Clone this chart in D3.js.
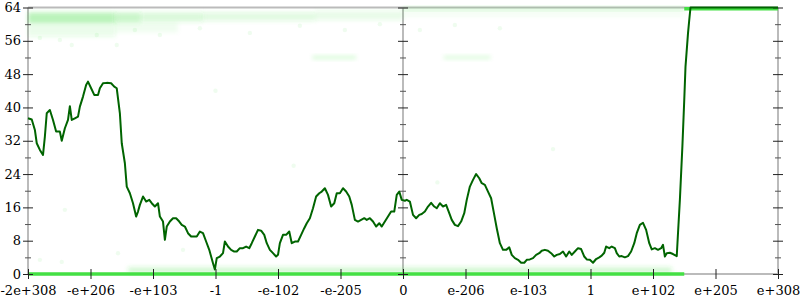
<!DOCTYPE html>
<html>
<head>
<meta charset="utf-8">
<script src="https://cdn.jsdelivr.net/npm/d3@7"></script>
<style>
body { margin: 0; background: #fff; }
svg text { font-family: "DejaVu Serif", serif; font-size: 13px; fill: #000; }
</style>
</head>
<body>
<div id="chart"></div>
<script>
// x axis: ordered float bit positions, one label per step
var tickLabels = ["-2e+308", "-e+206", "-e+103", "-1", "-e-102", "-e-205", "0",
                  "e-206", "e-103", "1", "e+102", "e+205", "e+308"];
var tickPos = [-6, -5, -4, -3, -2, -1, 0, 1, 2, 3, 4, 5, 6];
var yTicks = [0, 8, 16, 24, 32, 40, 48, 56, 64];
var yMinor = [4, 12, 20, 28, 36, 44, 52, 60];

// running median line
var lineX = [-6.00, -5.94, -5.89, -5.86, -5.81, -5.76, -5.73, -5.70, -5.65, -5.60, -5.55, -5.49, -5.46, -5.41, -5.36,
  -5.33, -5.30, -5.25, -5.20, -5.17, -5.12, -5.07, -5.04, -4.99, -4.94, -4.88, -4.85, -4.80, -4.74, -4.67,
  -4.62, -4.58, -4.53, -4.50, -4.45, -4.42, -4.37, -4.32, -4.27, -4.24, -4.21, -4.16, -4.11, -4.06, -4.02,
  -3.97, -3.92, -3.89, -3.84, -3.81, -3.78, -3.73, -3.68, -3.63, -3.58, -3.54, -3.49, -3.44, -3.39, -3.34,
  -3.30, -3.25, -3.20, -3.15, -3.10, -3.07, -3.04, -3.01, -2.98, -2.93, -2.88, -2.85, -2.80, -2.75, -2.70,
  -2.66, -2.61, -2.56, -2.51, -2.46, -2.42, -2.37, -2.32, -2.27, -2.22, -2.18, -2.13, -2.08, -2.03, -2.00,
  -1.97, -1.92, -1.87, -1.82, -1.78, -1.73, -1.68, -1.63, -1.58, -1.54, -1.49, -1.44, -1.39, -1.34, -1.30,
  -1.25, -1.20, -1.15, -1.10, -1.06, -1.01, -0.96, -0.91, -0.86, -0.82, -0.77, -0.72, -0.67, -0.62, -0.58,
  -0.53, -0.48, -0.43, -0.38, -0.34, -0.29, -0.24, -0.19, -0.14, -0.10, -0.06, -0.02, 0.03, 0.06, 0.11,
  0.16, 0.21, 0.26, 0.30, 0.35, 0.40, 0.45, 0.50, 0.54, 0.59, 0.64, 0.69, 0.74, 0.78, 0.83,
  0.88, 0.93, 0.98, 1.02, 1.07, 1.12, 1.17, 1.22, 1.26, 1.31, 1.36, 1.41, 1.46, 1.50, 1.55,
  1.60, 1.65, 1.70, 1.74, 1.79, 1.84, 1.89, 1.94, 1.98, 2.03, 2.08, 2.13, 2.18, 2.22, 2.27,
  2.32, 2.37, 2.42, 2.46, 2.51, 2.56, 2.61, 2.66, 2.70, 2.75, 2.80, 2.85, 2.90, 2.94, 2.99,
  3.04, 3.09, 3.14, 3.18, 3.22, 3.25, 3.30, 3.34, 3.39, 3.42, 3.46, 3.50, 3.55, 3.60, 3.65,
  3.70, 3.74, 3.79, 3.84, 3.89, 3.94, 3.98, 4.03, 4.08, 4.13, 4.16, 4.19, 4.22, 4.27, 4.32,
  4.38, 4.40, 4.43, 4.47, 4.50, 4.52, 4.56, 4.58, 4.60, 6.00];
var lineV = [37.4, 37.1, 34.6, 31.4, 29.8, 28.6, 33.0, 38.6, 39.4, 37.0, 34.2, 34.2, 32.0, 35.0, 37.0,
  40.3, 37.0, 37.4, 37.8, 40.2, 42.6, 45.4, 46.2, 44.6, 43.0, 43.0, 44.6, 45.8, 45.9, 45.8,
  45.0, 44.6, 38.6, 31.4, 26.6, 21.0, 19.4, 17.0, 13.8, 15.0, 16.6, 18.6, 17.4, 17.8, 17.0,
  16.2, 17.0, 13.8, 12.6, 8.2, 11.4, 12.6, 13.4, 13.4, 12.6, 11.8, 11.4, 9.8, 9.0, 9.0,
  9.0, 10.2, 9.8, 7.8, 5.8, 4.2, 2.6, 1.1, 3.8, 4.2, 5.0, 7.8, 6.6, 5.8, 5.4,
  5.4, 6.2, 6.2, 6.6, 6.2, 7.4, 9.0, 10.6, 10.4, 9.4, 7.4, 5.8, 5.0, 4.2, 4.6,
  7.4, 9.4, 9.4, 10.2, 7.4, 7.8, 7.8, 9.4, 11.0, 12.2, 13.4, 15.8, 18.6, 19.4, 19.8,
  20.6, 19.0, 16.2, 17.0, 19.4, 19.4, 20.6, 19.8, 18.6, 16.6, 13.0, 12.6, 13.0, 13.4, 13.0,
  13.4, 12.6, 11.4, 12.2, 11.4, 12.6, 13.8, 15.0, 15.0, 19.0, 19.8, 17.8, 17.6, 17.8, 17.4,
  14.2, 13.4, 14.2, 14.4, 15.0, 16.2, 17.1, 16.2, 15.8, 17.0, 16.2, 16.6, 14.6, 13.0, 11.8,
  11.5, 12.6, 14.6, 17.8, 21.0, 22.6, 24.0, 23.0, 21.8, 21.4, 19.8, 18.2, 14.2, 11.0, 7.4,
  5.8, 5.8, 6.4, 4.6, 3.8, 3.4, 2.7, 2.7, 3.4, 3.5, 3.8, 4.6, 5.0, 5.6, 5.8,
  5.6, 5.0, 4.2, 4.6, 4.8, 5.4, 4.2, 5.4, 4.6, 5.4, 6.2, 6.0, 4.2, 3.5, 3.4,
  2.7, 3.6, 4.0, 4.4, 5.1, 6.6, 6.2, 6.6, 6.2, 5.0, 4.2, 4.3, 4.0, 4.3, 5.4,
  7.4, 9.8, 11.8, 12.3, 10.6, 7.4, 5.9, 6.2, 5.8, 6.2, 7.0, 4.2, 5.0, 5.1, 4.8,
  4.3, 9.8, 17.8, 30.6, 41.8, 49.8, 57.8, 61.0, 64.0, 64.0];

// sample clouds (blurred bands) : x range, value range, relative density
var bandX0 = [-6.0, -4.6, -4.2, -3.2, -1.4, 0.0, -6.0, -4.6, -1.45, 0.65, -4.4, 0.0, -6.0, 4.5];
var bandX1 = [-4.6, -4.2, -3.2, -1.4, 0.0, 4.5, -4.6, -3.6, -0.75, 1.40, 4.3, 4.5, 4.5, 6.0];
var bandV0 = [60.3, 60.4, 60.6, 60.8, 61.0, 62.0, 57.0, 58.0, 51.6, 51.6, 0.3, 63.4, -0.3, 63.4];
var bandV1 = [62.8, 62.8, 62.8, 62.8, 63.2, 63.2, 60.3, 60.4, 52.4, 52.4, 1.6, 64.0, 0.3, 64.0];
var bandN  = [0.34, 0.26, 0.19, 0.14, 0.11, 0.07, 0.10, 0.06, 0.16, 0.14, 0.22, 0.25, 1.0, 1.0];

// loose samples
var dotX = [-5.81, -5.49, -5.30, -4.90, -4.58, -4.29, -3.89, -3.25, -2.45, -1.65, -0.93, -0.37, 0.27, 0.83, 1.55,
  -5.81, -5.46, -5.41, -4.56, -3.52, -1.75, 0.55, -3.00, 2.40];
var dotV = [56.7, 56.2, 55.0, 57.4, 55.0, 58.6, 57.4, 59.0, 57.9, 59.6, 58.6, 60.0, 58.6, 59.8, 59.0,
  3.4, 2.9, 15.4, 5.0, 5.8, 26.0, 22.0, 44.0, 30.0];

var margin = {top: 7.5, right: 22, bottom: 26, left: 28},
    width = 800 - margin.left - margin.right,
    height = 300 - margin.top - margin.bottom;

var svg = d3.select("#chart")
  .append("svg")
    .attr("width", 800)
    .attr("height", 300)
  .append("g")
    .attr("transform", "translate(" + margin.left + "," + margin.top + ")");

var x = d3.scaleLinear().domain([-6, 6]).range([0, width]);
var y = d3.scaleLinear().domain([0, 64]).range([height, 0]);
var op = d3.scaleLinear().domain([0, 1]).range([0, 1]);

svg.append("defs").append("filter")
    .attr("id", "blur")
    .attr("x", "-10%").attr("y", "-80%").attr("width", "120%").attr("height", "260%")
  .append("feGaussianBlur")
    .attr("stdDeviation", 2);

// frame
var frame = svg.append("g").attr("stroke", "#bbb").attr("stroke-width", 2);
frame.append("line").attr("x1", 0).attr("x2", width).attr("y1", 0).attr("y2", 0);
frame.append("line").attr("x1", 0).attr("x2", width).attr("y1", height).attr("y2", height);
[-6, 0, 6].forEach(function(v) {
  frame.append("line").attr("x1", x(v)).attr("x2", x(v)).attr("y1", 0).attr("y2", height);
});

// sample bands
var bands = d3.range(bandX0.length);
svg.append("g")
  .selectAll("rect")
  .data(bands.filter(function(i) { return bandN[i] < 1; }))
  .enter().append("rect")
    .attr("x", function(i) { return x(bandX0[i]); })
    .attr("width", function(i) { return x(bandX1[i]) - x(bandX0[i]); })
    .attr("y", function(i) { return y(bandV1[i]); })
    .attr("height", function(i) { return y(bandV0[i]) - y(bandV1[i]); })
    .attr("fill", "#33dd33")
    .attr("fill-opacity", function(i) { return op(bandN[i]); })
    .attr("filter", "url(#blur)");

svg.append("g")
  .selectAll("rect")
  .data(bands.filter(function(i) { return bandN[i] >= 1; }))
  .enter().append("rect")
    .attr("x", function(i) { return x(bandX0[i]); })
    .attr("width", function(i) { return x(bandX1[i]) - x(bandX0[i]); })
    .attr("y", function(i) { return y(bandV1[i]) - 0.5; })
    .attr("height", function(i) { return y(bandV0[i]) - y(bandV1[i]) + 1; })
    .attr("fill", "#44e044");

svg.append("g")
  .selectAll("circle")
  .data(d3.range(dotX.length))
  .enter().append("circle")
    .attr("cx", function(i) { return x(dotX[i]); })
    .attr("cy", function(i) { return y(dotV[i]); })
    .attr("r", 2.2)
    .attr("fill", "#33dd33")
    .attr("fill-opacity", 0.08);

// y axes: major + minor ticks centred on each vertical line
function yAxis(xpos, labels) {
  var g = svg.append("g").attr("transform", "translate(" + (xpos + 5) + ",0)");
  g.call(d3.axisLeft(y).tickValues(yTicks).tickSize(10).tickPadding(2)
      .tickFormat(labels ? d3.format("d") : ""));
  g.select(".domain").remove();
  g.selectAll("line").attr("stroke", "#222");
  g.selectAll("text").attr("font-size", null).attr("font-family", null);
  var m = svg.append("g").attr("transform", "translate(" + (xpos + 3) + ",0)");
  m.call(d3.axisLeft(y).tickValues(yMinor).tickSize(6).tickFormat(""));
  m.select(".domain").remove();
  m.selectAll("line").attr("stroke", "#555");
}
yAxis(x(-6), true);
yAxis(x(0), false);
yAxis(x(6), false);

// x axis
var xa = svg.append("g").attr("transform", "translate(0," + (height - 5) + ")");
xa.call(d3.axisBottom(x).tickValues(tickPos).tickSize(10).tickPadding(7)
    .tickFormat(function(d, i) { return tickLabels[i]; }));
xa.select(".domain").remove();
xa.selectAll("line").attr("stroke", "#222");
xa.selectAll("text").attr("font-size", null).attr("font-family", null);

// median line
svg.append("path")
  .datum(d3.range(lineX.length))
  .attr("fill", "none")
  .attr("stroke", "#006400")
  .attr("stroke-width", 2)
  .attr("stroke-linejoin", "round")
  .attr("d", d3.line()
    .x(function(i) { return x(lineX[i]); })
    .y(function(i) { return y(lineV[i]); }));
</script>
</body>
</html>
